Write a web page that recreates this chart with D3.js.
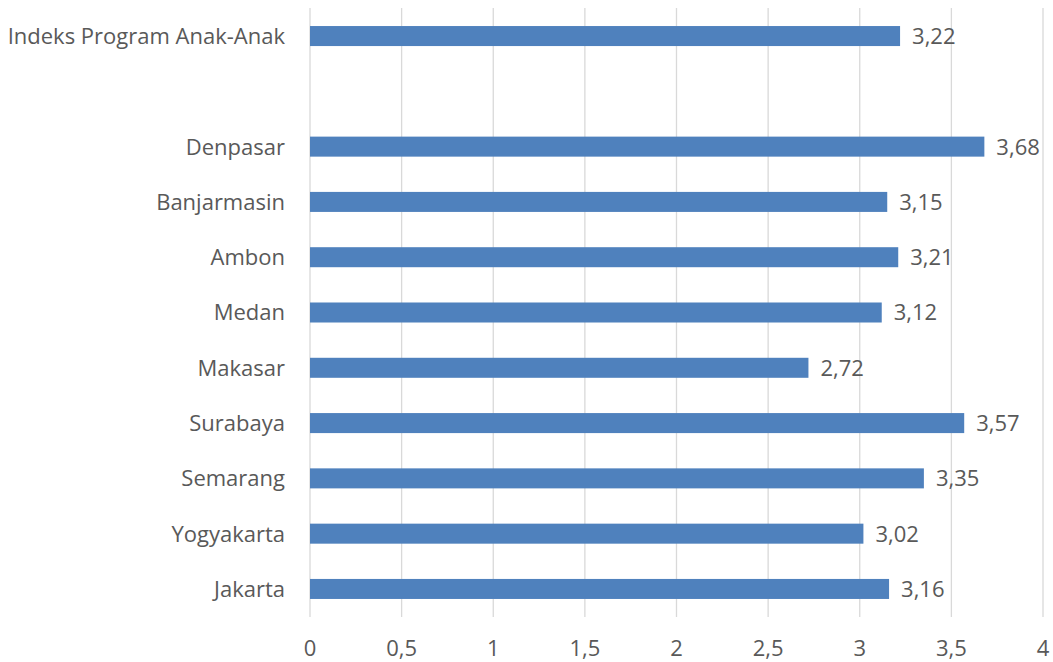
<!DOCTYPE html>
<html><head><meta charset="utf-8">
<script src="https://cdn.jsdelivr.net/npm/d3@7"></script>
<style>body{margin:0;background:#fff}svg{display:block}text{font-family:"Open Sans",sans-serif;fill:#595959}</style>
</head><body>
<svg id="c" width="1053" height="662"></svg>
<script>
const categories = ["Indeks Program Anak-Anak", "", "Denpasar", "Banjarmasin", "Ambon", "Medan", "Makasar", "Surabaya", "Semarang", "Yogyakarta", "Jakarta"];
const values = [3.22, null, 3.68, 3.15, 3.21, 3.12, 2.72, 3.57, 3.35, 3.02, 3.16];
const ticks = [0, 0.5, 1, 1.5, 2, 2.5, 3, 3.5, 4];
const fmt = v => String(v).replace(".", ",");
const fmt2 = v => v.toFixed(2).replace(".", ",");

const svg = d3.select("#c");
const x = d3.scaleLinear().domain([0, 4]).range([310, 1043]);
const y = d3.scaleBand().domain(d3.range(categories.length)).range([8.4, 616.6]).paddingInner(0.638).paddingOuter(0.319);

svg.append("g").selectAll("line").data(ticks).join("line")
  .attr("x1", d => x(d)).attr("x2", d => x(d)).attr("y1", 8).attr("y2", 617)
  .attr("stroke", "#d9d9d9").attr("stroke-width", 1.3);

svg.append("g").selectAll("text").data(ticks).join("text")
  .attr("x", d => x(d)).attr("y", 656).attr("text-anchor", "middle")
  .attr("font-size", 22).text(fmt);

const rows = categories.map((c, i) => ({c, v: values[i], i})).filter(d => d.v != null);

svg.append("g").selectAll("rect").data(rows).join("rect")
  .attr("x", x(0)).attr("y", d => y(d.i)).attr("height", y.bandwidth())
  .attr("width", d => x(d.v) - x(0)).attr("fill", "#4f81bd");

svg.append("g").selectAll("text").data(rows).join("text")
  .attr("x", d => x(d.v) + 12).attr("y", d => y(d.i) + y.bandwidth()/2).attr("dy", "0.36em")
  .attr("font-size", 22).text(d => fmt2(d.v));

svg.append("g").selectAll("text").data(rows).join("text")
  .attr("x", 285).attr("y", d => y(d.i) + y.bandwidth()/2).attr("dy", "0.36em")
  .attr("text-anchor", "end").attr("font-size", 22).text(d => d.c);
</script>
</body></html>
